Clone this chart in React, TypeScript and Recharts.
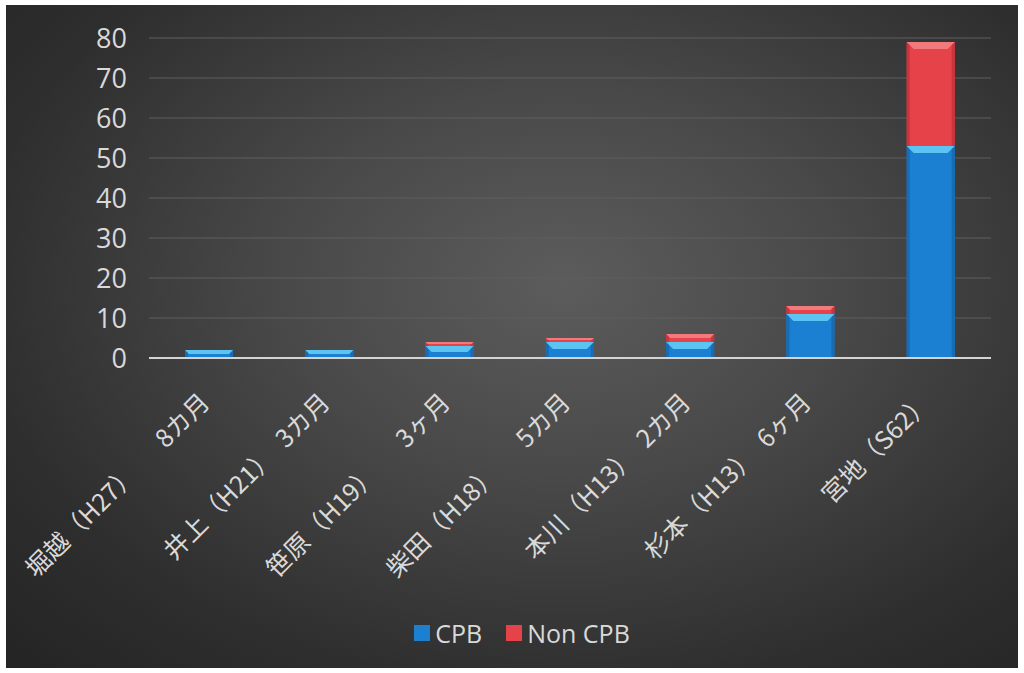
import { BarChart, Bar, XAxis, YAxis, CartesianGrid, Legend } from "recharts";

const categories = [
  "堀越（H27）　　8カ月",
  "井上（H21）　3カ月",
  "笹原（H19）　　3ヶ月",
  "柴田（H18）　　5カ月",
  "本川（H13）　2カ月",
  "杉本（H13）　6ヶ月",
  "宮地（S62）",
];
const cpb = [2, 2, 3, 4, 4, 11, 53];
const nonCpb = [0, 0, 1, 1, 2, 2, 26];
const yTicks = [0, 10, 20, 30, 40, 50, 60, 70, 80];

const data = categories.map((name, i) => ({ name, cpb: cpb[i], nonCpb: nonCpb[i] }));

const TEXT = "#d9d9d9";

const makeBevel = (base: string, light: string, edge: string) => (props: any) => {
  const { x, y, width, height } = props;
  if (!height || height <= 0) return null;
  const b = Math.min(7, height / 2);
  return (
    <g>
      <rect x={x} y={y} width={width} height={height} fill={base} />
      <rect x={x} y={y} width={3} height={height} fill={edge} />
      <rect x={x + width - 3} y={y} width={3} height={height} fill={edge} />
      <polygon
        points={`${x},${y} ${x + width},${y} ${x + width - b},${y + b} ${x + b},${y + b}`}
        fill={light}
      />
    </g>
  );
};

const CategoryTick = ({ x, y, payload }: any) => (
  <g transform={`translate(${x + 2},${y + 46})`}>
    <text
      transform="rotate(-45)"
      textAnchor="end"
      fill={TEXT}
      fontSize={25}
      fontFamily="'Noto Sans CJK JP', sans-serif"
      style={{ whiteSpace: "pre" }}
    >
      {payload.value}
    </text>
  </g>
);

const LegendBox = ({ payload }: any) => (
  <div style={{ display: "flex", justifyContent: "center", alignItems: "center", gap: 24, paddingLeft: 20 }}>
    {(payload || []).map((p: any) => (
      <div key={p.value} style={{ display: "flex", alignItems: "center" }}>
        <span style={{ display: "inline-block", width: 16, height: 16, background: p.color, marginRight: 5 }} />
        <span style={{ color: TEXT, fontSize: 25, fontFamily: "'Open Sans', sans-serif", lineHeight: "30px" }}>
          {p.value}
        </span>
      </div>
    ))}
  </div>
);

export default function App() {
  return (
    <div style={{ position: "absolute", left: 0, top: 0, width: 1024, height: 673, background: "#fff" }}>
      <div
        style={{
          position: "absolute",
          left: 6,
          top: 5,
          width: 1012,
          height: 663,
          background:
            "radial-gradient(ellipse at 55% 42%, #5c5c5c 0%, #494949 35%, #2e2e2e 75%, #242424 100%)",
        }}
      >
        <BarChart
          width={1012}
          height={663}
          data={data}
          margin={{ top: 33, right: 27, left: 0, bottom: 10 }}
        >
          <CartesianGrid vertical={false} stroke="#5e5e5e" strokeWidth={1} />
          <XAxis
            dataKey="name"
            height={300}
            interval={0}
            tickLine={false}
            tickSize={0}
            tickMargin={0}
            axisLine={{ stroke: "#d4d4d4", strokeWidth: 2 }}
            tick={<CategoryTick />}
          />
          <YAxis
            width={143}
            domain={[0, 80]}
            ticks={yTicks}
            axisLine={false}
            tickLine={false}
            tickSize={0}
            tickMargin={22}
            tick={{ fill: TEXT, fontSize: 27, fontFamily: "'Open Sans', sans-serif" }}
          />
          <Legend
            verticalAlign="middle"
            align="center"
            wrapperStyle={{ top: 613, left: 0, width: 1012 }}
            content={<LegendBox />}
          />
          <Bar
            dataKey="cpb"
            name="CPB"
            stackId="a"
            barSize={48}
            fill="#1b7fd2"
            shape={makeBevel("#1b7fd2", "#5cc4f2", "#176cb4")}
            isAnimationActive={false}
          />
          <Bar
            dataKey="nonCpb"
            name="Non CPB"
            stackId="a"
            barSize={48}
            fill="#e5424a"
            shape={makeBevel("#e5424a", "#f07a7c", "#c9353c")}
            isAnimationActive={false}
          />
        </BarChart>
      </div>
    </div>
  );
}
